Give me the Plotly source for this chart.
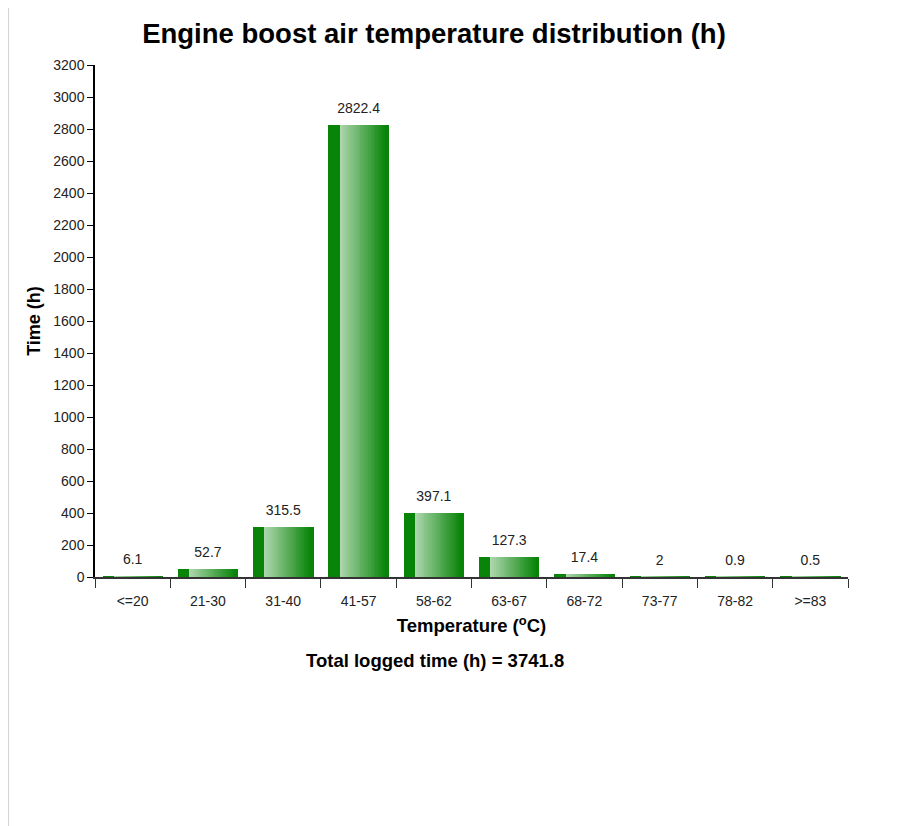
import plotly.graph_objs as go

# temperature bins and logged hours
categories = ['<=20', '21-30', '31-40', '41-57', '58-62', '63-67', '68-72', '73-77', '78-82', '>=83']
hours = [6.1, 52.7, 315.5, 2822.4, 397.1, 127.3, 17.4, 2, 0.9, 0.5]
total_hours = 3741.8

FONT = 'Arial, Liberation Sans, sans-serif'
BAR_W = 0.8
N_SLICES = 32

DARK = (8, 132, 8)
LIGHT = (172, 214, 172)

# plot area in figure pixels (the page adds an 8px body margin)
L, T, PW, PH = 87, 57, 753, 512


def slice_color(t):
    # dark strip on the left, then light fading back to dark
    if t < 0.2 or t > 0.95:
        c = DARK
    else:
        f = (t - 0.2) / 0.75
        c = tuple(round(LIGHT[k] + (DARK[k] - LIGHT[k]) * f) for k in range(3))
    return 'rgb(%d,%d,%d)' % c


fig = go.Figure()

step = BAR_W / N_SLICES
for i in range(N_SLICES):
    t = (i + 0.5) / N_SLICES
    fig.add_trace(go.Bar(
        x=categories, y=hours,
        width=step * 1.08,
        offset=-BAR_W / 2 + i * step,
        marker=dict(color=slice_color(t), line=dict(width=0)),
        hoverinfo='skip',
        showlegend=False,
    ))

# value labels above the bars (invisible marker pushes text up a bit)
fig.add_trace(go.Scatter(
    x=categories, y=hours,
    mode='markers+text',
    marker=dict(size=12, opacity=0),
    text=[f'{v:g}' for v in hours],
    textposition='top center',
    textfont=dict(family=FONT, size=14, color='#222'),
    cliponaxis=False,
    showlegend=False,
    hoverinfo='skip',
))

fig.update_layout(
    width=910, height=826,
    margin=dict(l=L, r=910 - L - PW, t=T, b=826 - T - PH),
    paper_bgcolor='white', plot_bgcolor='white',
    barmode='overlay',
    bargap=0,
    font=dict(family=FONT, size=14, color='#222'),
    title=dict(
        text='<b>Engine boost air temperature distribution (h)</b>',
        x=426 / 910, xanchor='center', y=1 - 25 / 826, yanchor='middle',
        font=dict(family=FONT, size=27.5, color='black'),
    ),
    xaxis=dict(
        type='category', range=[-0.5, 9.5],
        tickson='boundaries', ticks='outside', ticklen=9, tickcolor='#333',
        ticklabelstandoff=10,
        showline=True, linecolor='#333', linewidth=1.5,
        showgrid=False, zeroline=False,
        tickfont=dict(family=FONT, size=14, color='#222'),
        title=dict(text='<b>Temperature (<sup>o</sup>C)</b>',
                   font=dict(family=FONT, size=18.5, color='black'), standoff=12),
    ),
    yaxis=dict(
        range=[0, 3200], dtick=200,
        ticks='outside', ticklen=6, tickcolor='black',
        showline=True, linecolor='black', linewidth=1.5,
        showgrid=False, zeroline=False,
        tickfont=dict(family=FONT, size=14, color='#222'),
        title=dict(text='<b>Time (h)</b>',
                   font=dict(family=FONT, size=18, color='black'), standoff=8),
    ),
    annotations=[dict(
        text=f'<b>Total logged time (h) = {total_hours}</b>',
        xref='paper', yref='paper', x=(427 - L) / PW, y=-83 / PH,
        xanchor='center', yanchor='middle', showarrow=False,
        font=dict(family=FONT, size=18.5, color='black'),
    )],
    shapes=[dict(
        type='line', xref='paper', yref='paper',
        x0=(0.5 - L) / PW, x1=(0.5 - L) / PW,
        y0=(T + PH) / PH, y1=(T + PH - 826) / PH,
        line=dict(color='#d4d4d4', width=1),
    )],
)

fig.write_html('out.html')
